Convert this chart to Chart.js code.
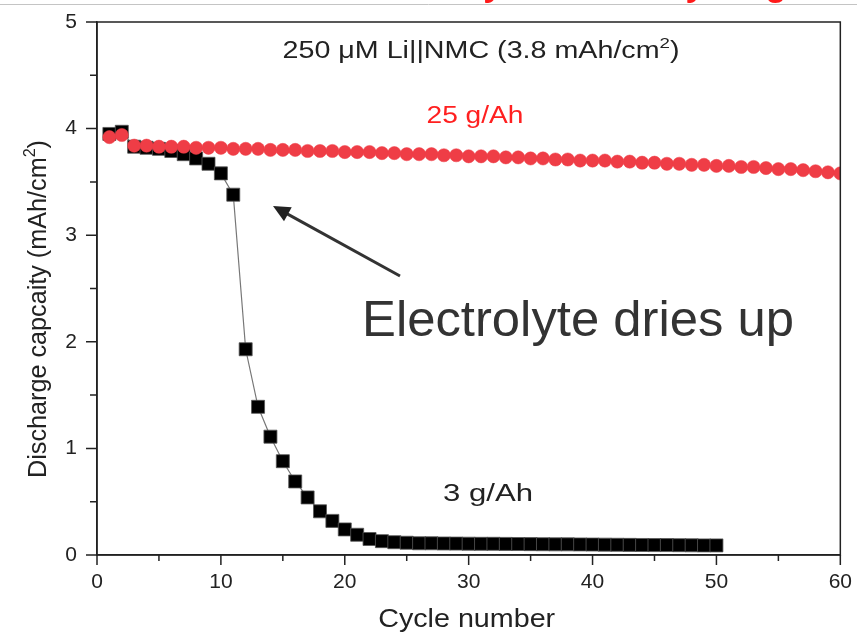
<!DOCTYPE html>
<html><head><meta charset="utf-8">
<script src="https://cdn.jsdelivr.net/npm/chart.js@4/dist/chart.umd.min.js"></script>
<style>html,body{margin:0;padding:0;background:#fff}#wrap{width:857px;height:635px;position:relative}</style>
</head><body><div id="wrap"><canvas id="c" width="857" height="635"></canvas></div>
<script>
// ---- data ----
const cycles25 = [1,2,3,4,5,6,7,8,9,10,11,12,13,14,15,16,17,18,19,20,21,22,23,24,25,26,27,28,29,30,31,32,33,34,35,36,37,38,39,40,41,42,43,44,45,46,47,48,49,50,51,52,53,54,55,56,57,58,59,60];
const capacity25 = [3.92,3.94,3.84,3.84,3.83,3.83,3.83,3.82,3.82,3.82,3.81,3.81,3.81,3.80,3.80,3.80,3.79,3.79,3.79,3.78,3.78,3.78,3.77,3.77,3.76,3.76,3.76,3.75,3.75,3.74,3.74,3.74,3.73,3.73,3.72,3.72,3.71,3.71,3.70,3.70,3.70,3.69,3.69,3.68,3.68,3.67,3.67,3.66,3.66,3.65,3.65,3.64,3.64,3.63,3.62,3.62,3.61,3.60,3.59,3.58];
const cycles3 = [1,2,3,4,5,6,7,8,9,10,11,12,13,14,15,16,17,18,19,20,21,22,23,24,25,26,27,28,29,30,31,32,33,34,35,36,37,38,39,40,41,42,43,44,45,46,47,48,49,50];
const capacity3 = [3.95,3.97,3.83,3.82,3.81,3.79,3.76,3.72,3.67,3.58,3.38,1.93,1.39,1.11,0.88,0.69,0.54,0.41,0.32,0.24,0.19,0.15,0.13,0.12,0.115,0.11,0.11,0.108,0.107,0.106,0.105,0.105,0.104,0.103,0.102,0.101,0.10,0.10,0.099,0.098,0.097,0.096,0.095,0.094,0.093,0.093,0.092,0.091,0.09,0.09];
const xTickLabels = [0,10,20,30,40,50,60];
const yTickLabels = [0,1,2,3,4,5];
const seriesNames = ['25 g/Ah','3 g/Ah'];

const FONT = '"Liberation Sans", Arial, sans-serif';
const toPts = (xs, ys) => xs.map((x, i) => ({x, y: ys[i]}));

// draw a sequence of [text, size, dy] pieces centred at cx, stretched to targetW
function drawPieces(ctx, pieces, cx, baseY, targetW) {
  let total = 0;
  const ws = pieces.map(p => { ctx.font = p[1] + 'px ' + FONT; const w = ctx.measureText(p[0]).width; total += w; return w; });
  const sx = targetW ? targetW / total : 1;
  ctx.save();
  ctx.translate(cx, baseY);
  ctx.scale(sx, 1);
  ctx.textAlign = 'left';
  ctx.textBaseline = 'alphabetic';
  let x = -total / 2;
  pieces.forEach((p, i) => { ctx.font = p[1] + 'px ' + FONT; ctx.fillText(p[0], x, p[2] || 0); x += ws[i]; });
  ctx.restore();
}

const overlay = {
  id: 'overlay',
  afterDraw(chart) {
    const ctx = chart.ctx;
    const a = chart.chartArea;
    const xs = chart.scales.x, ys = chart.scales.y;
    ctx.save();
    // frame
    ctx.strokeStyle = '#222';
    ctx.lineWidth = 1.5;
    ctx.strokeRect(a.left, a.top, a.right - a.left, a.bottom - a.top);

    // tick marks: major longer, minor shorter
    ctx.beginPath();
    xs.ticks.forEach(t => {
      const px = xs.getPixelForValue(t.value);
      const len = xTickLabels.includes(t.value) ? 10 : 6;
      ctx.moveTo(px, a.bottom); ctx.lineTo(px, a.bottom + len);
    });
    ys.ticks.forEach(t => {
      const py = ys.getPixelForValue(t.value);
      const len = yTickLabels.includes(t.value) ? 11 : 7;
      ctx.moveTo(a.left, py); ctx.lineTo(a.left - len, py);
    });
    ctx.stroke();

    // slide separator line and clipped red title
    ctx.strokeStyle = '#c4c4c4';
    ctx.lineWidth = 1;
    ctx.beginPath(); ctx.moveTo(0, 4.5); ctx.lineTo(857, 4.5); ctx.stroke();
    ctx.fillStyle = '#ff1a1a';
    ctx.font = 'bold 35px ' + FONT;
    const title = 'Cell failure caused by Li anode cycling';
    const pre = ctx.measureText('Cell failure caused by Li anode cyclin').width;
    const gW = ctx.measureText('g').width;
    ctx.textAlign = 'left'; ctx.textBaseline = 'alphabetic';
    ctx.fillText(title, 776 - pre - gW / 2, -4);

    // annotations
    ctx.fillStyle = '#222';
    drawPieces(ctx, [['250 \u03bcM Li||NMC (3.8 mAh/cm', 23], ['2', 15, -10], [')', 23]], 481, 58, 397);
    ctx.fillStyle = '#ff2020';
    drawPieces(ctx, [[seriesNames[0], 23]], 475, 123, 97);
    ctx.fillStyle = '#222';
    drawPieces(ctx, [[seriesNames[1], 23]], 488, 501, 90);
    ctx.fillStyle = '#333';
    drawPieces(ctx, [['Electrolyte dries up', 50]], 578, 336, 432);

    // arrow
    const ax1 = 400, ay1 = 276, ax2 = 273, ay2 = 206;
    const ang = Math.atan2(ay2 - ay1, ax2 - ax1);
    ctx.strokeStyle = '#333'; ctx.lineWidth = 3;
    ctx.beginPath(); ctx.moveTo(ax1, ay1);
    ctx.lineTo(ax2 - 10 * Math.cos(ang), ay2 - 10 * Math.sin(ang)); ctx.stroke();
    ctx.fillStyle = '#222';
    ctx.beginPath();
    ctx.moveTo(ax2, ay2);
    ctx.lineTo(ax2 - 17 * Math.cos(ang) + 8 * Math.sin(ang), ay2 - 17 * Math.sin(ang) - 8 * Math.cos(ang));
    ctx.lineTo(ax2 - 17 * Math.cos(ang) - 8 * Math.sin(ang), ay2 - 17 * Math.sin(ang) + 8 * Math.cos(ang));
    ctx.closePath(); ctx.fill();

    // axis titles
    ctx.fillStyle = '#222';
    drawPieces(ctx, [['Cycle number', 25]], (a.left + a.right) / 2 - 2, 627, 177);

    ctx.save();
    ctx.translate(46, 309);
    ctx.rotate(-Math.PI / 2);
    drawPieces(ctx, [['Discharge capcaity (mAh/cm', 25], ['2', 16, -11], [')', 25]], 0, 0, 338);
    ctx.restore();

    ctx.restore();
  }
};

new Chart(document.getElementById('c'), {
  type: 'scatter',
  data: {
    datasets: [
      {
        label: seriesNames[0],
        data: toPts(cycles25, capacity25),
        showLine: false,
        pointStyle: 'circle',
        pointRadius: 6.6,
        pointBackgroundColor: '#ef3d46',
        pointBorderColor: '#ef3d46',
        pointBorderWidth: 0.5,
        borderColor: '#ef3d46'
      },
      {
        label: seriesNames[1],
        data: toPts(cycles3, capacity3),
        showLine: true,
        borderColor: '#777',
        borderWidth: 1.2,
        pointStyle: 'rect',
        pointRadius: 9.2,
        pointBackgroundColor: '#000',
        pointBorderColor: '#555',
        pointBorderWidth: 0.8
      }
    ]
  },
  options: {
    responsive: false,
    animation: false,
    devicePixelRatio: 1,
    layout: { padding: { top: 22, right: 16, left: 0, bottom: 0 } },
    plugins: { legend: { display: false }, tooltip: { enabled: false } },
    scales: {
      x: {
        type: 'linear', min: 0, max: 60,
        afterFit(s) { s.height = 80; },
        ticks: {
          stepSize: 5, autoSkip: false, maxRotation: 0, padding: 5,
          color: '#222', font: { family: FONT, size: 21 },
          callback: v => xTickLabels.includes(v) ? String(v) : ''
        },
        grid: { drawOnChartArea: false, drawTicks: true, tickLength: 10, tickColor: 'rgba(0,0,0,0)' },
        border: { display: true, color: '#222', width: 1.5 }
      },
      y: {
        type: 'linear', min: 0, max: 5,
        afterFit(s) { s.width = 97; },
        ticks: {
          stepSize: 0.5, autoSkip: false, padding: 9,
          color: '#222', font: { family: FONT, size: 21 },
          callback: v => yTickLabels.includes(v) ? String(v) : ''
        },
        grid: { drawOnChartArea: false, drawTicks: true, tickLength: 11, tickColor: 'rgba(0,0,0,0)' },
        border: { display: true, color: '#222', width: 1.5 }
      }
    }
  },
  plugins: [overlay]
});
</script>
</body></html>
